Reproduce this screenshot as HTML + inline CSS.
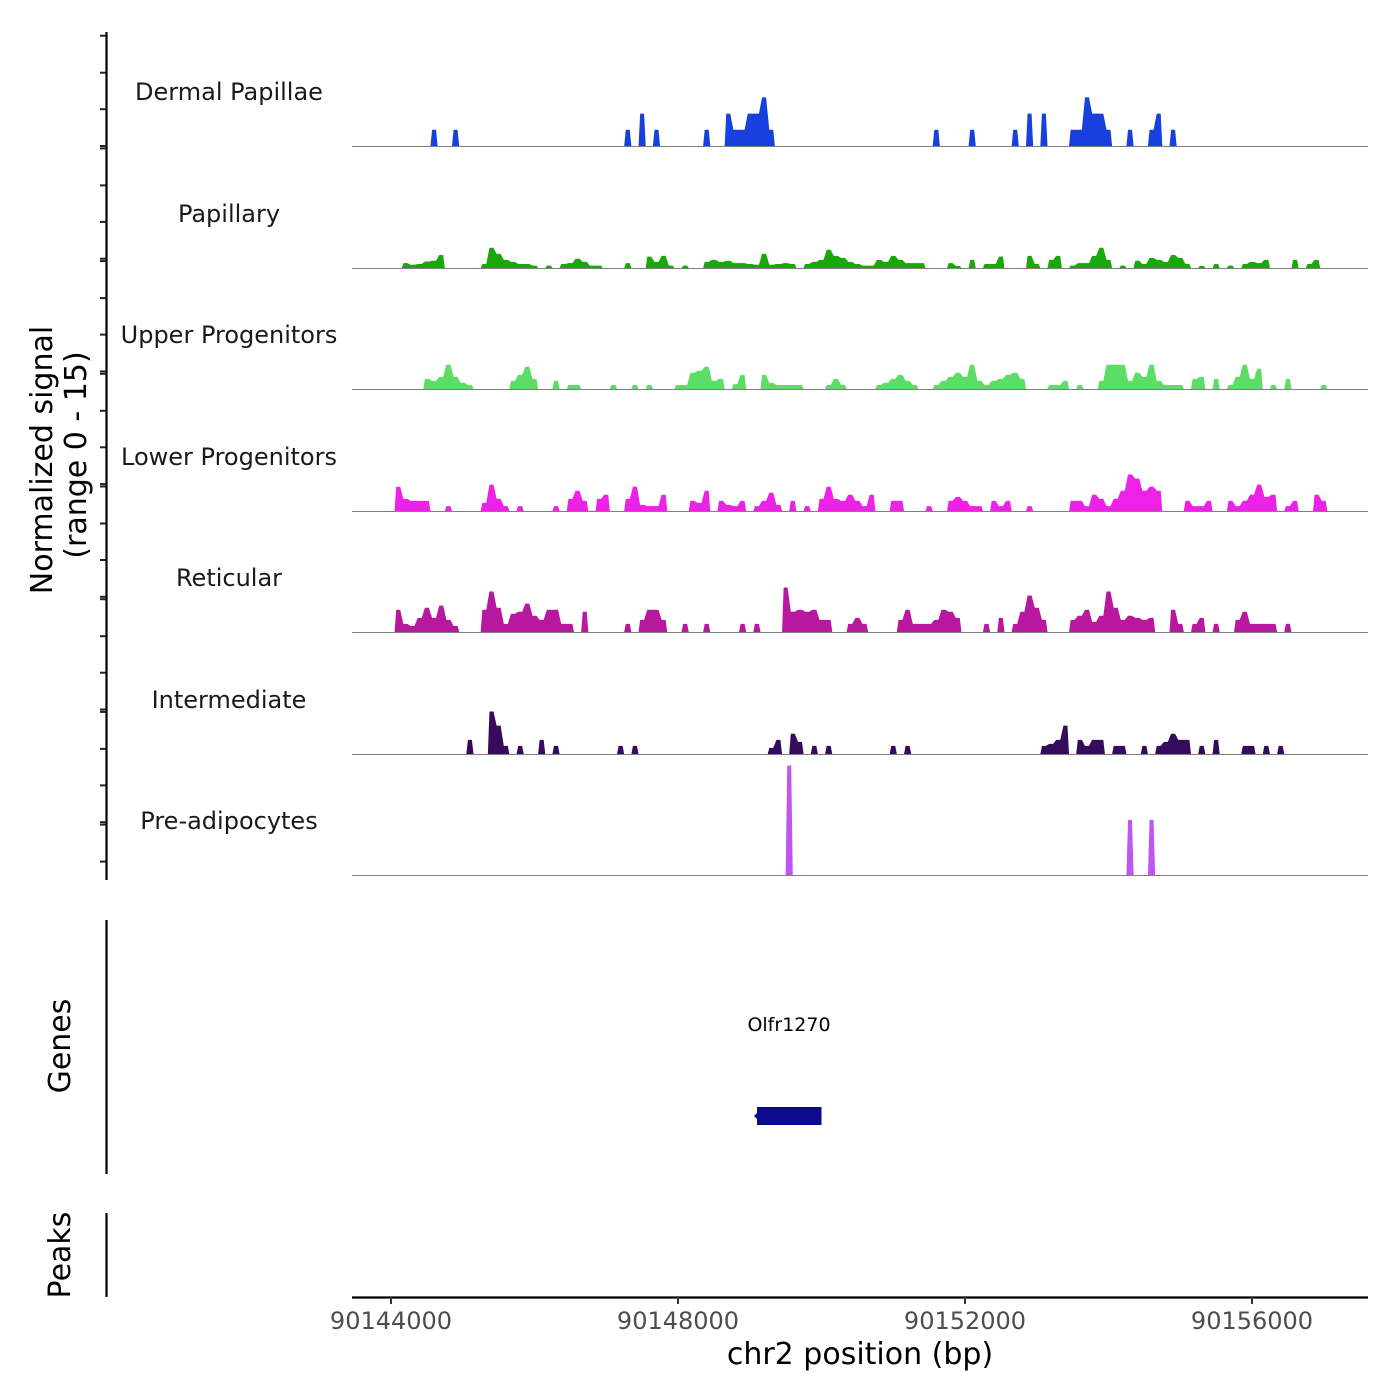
<!DOCTYPE html>
<html><head><meta charset="utf-8"><style>
html,body{margin:0;padding:0;background:#fff;}
svg{display:block;font-family:"DejaVu Sans","Liberation Sans",sans-serif;}
</style></head><body>
<svg id="chart" width="1400" height="1400" viewBox="0 0 1400 1400">
<g id="tracks"></g>
<g id="axes"></g>
</svg>
<script>
const trackNames = ["Dermal Papillae","Papillary","Upper Progenitors","Lower Progenitors","Reticular","Intermediate","Pre-adipocytes"];
const trackColors = ["#1740dd","#19a80a","#5cdd66","#ee22e6","#b8189e","#360b5c","#c056f2"];
const xTicks = [90144000, 90148000, 90152000, 90156000];
const binSize = 100;
const dermal = [[90144550,2],[90144850,2],[90147250,2],[90147450,4],[90147650,2],[90148350,2],[90148650,4],[90148750,2],[90148850,2],[90148950,4],[90149050,4],[90149150,6],[90149250,2],[90151550,2],[90152050,2],[90152650,2],[90152850,4],[90153050,4],[90153450,2],[90153550,2],[90153650,6],[90153750,4],[90153850,4],[90153950,2],[90154250,2],[90154550,2],[90154650,4],[90154850,2]];
const papillary = [[90144150,0.6],[90144250,0.4],[90144350,0.5],[90144450,0.8],[90144550,0.9],[90144650,1.6],[90145250,0.5],[90145350,2.5],[90145450,1.75],[90145550,1],[90145650,0.75],[90145750,0.5],[90145850,0.5],[90145950,0.3],[90146150,0.3],[90146350,0.5],[90146450,0.6],[90146550,1.15],[90146650,0.75],[90146750,0.3],[90146850,0.3],[90147250,0.6],[90147550,1.4],[90147650,0.75],[90147750,1.5],[90147850,0.3],[90148050,0.3],[90148350,0.75],[90148450,1],[90148550,0.75],[90148650,0.9],[90148750,0.6],[90148850,0.6],[90148950,0.5],[90149050,0.4],[90149150,1.75],[90149250,0.4],[90149350,0.5],[90149450,0.6],[90149550,0.5],[90149750,0.5],[90149850,0.75],[90149950,1],[90150050,2.25],[90150150,1.5],[90150250,1.25],[90150350,0.75],[90150450,0.5],[90150550,0.3],[90150650,0.3],[90150750,1],[90150850,0.75],[90150950,1.5],[90151050,1],[90151150,0.6],[90151250,0.6],[90151350,0.6],[90151750,0.6],[90151850,0.25],[90152050,1],[90152250,0.5],[90152350,0.5],[90152450,1.4],[90152850,1.5],[90152950,0.5],[90153150,1],[90153250,1.5],[90153450,0.3],[90153550,0.6],[90153650,0.6],[90153750,1.5],[90153850,2.5],[90153950,1],[90154150,0.3],[90154350,0.9],[90154450,0.5],[90154550,1.25],[90154650,1],[90154750,0.75],[90154850,1.6],[90154950,1.25],[90155050,0.5],[90155250,0.25],[90155450,0.5],[90155650,0.3],[90155850,0.5],[90155950,0.75],[90156050,0.6],[90156150,1],[90156550,1],[90156750,0.5],[90156850,1]];
const upper = [[90144450,1.25],[90144550,1],[90144650,1.5],[90144750,3],[90144850,1.5],[90144950,0.75],[90145050,0.5],[90145650,1],[90145750,1.75],[90145850,2.75],[90145950,1.25],[90146250,1],[90146450,0.5],[90146550,0.5],[90147050,0.5],[90147350,0.5],[90147550,0.5],[90147950,0.5],[90148050,0.5],[90148150,2],[90148250,2.25],[90148350,2.75],[90148450,1],[90148550,1.25],[90148750,0.6],[90148850,1.75],[90149150,1.75],[90149250,0.75],[90149350,0.5],[90149450,0.5],[90149550,0.5],[90149650,0.5],[90150050,0.5],[90150150,1.25],[90150250,0.5],[90150750,0.5],[90150850,0.75],[90150950,1.25],[90151050,1.75],[90151150,1],[90151250,0.5],[90151550,0.5],[90151650,1],[90151750,1.5],[90151850,2],[90151950,1.5],[90152050,3],[90152150,1],[90152250,0.5],[90152350,1],[90152450,1.25],[90152550,1.75],[90152650,2],[90152750,1.25],[90153150,0.5],[90153250,0.5],[90153350,1],[90153550,0.5],[90153850,1],[90153950,3],[90154050,3],[90154150,3],[90154250,1],[90154350,2],[90154450,1.5],[90154550,3],[90154650,1],[90154750,0.5],[90154850,0.5],[90154950,0.5],[90155150,1.25],[90155250,1.5],[90155450,1.25],[90155650,0.5],[90155750,1.5],[90155850,3],[90155950,1.25],[90156050,2.5],[90156250,0.5],[90156450,1.25],[90156950,0.5]];
const lower = [[90144050,3],[90144150,1.5],[90144250,1.25],[90144350,1.25],[90144450,1.25],[90144750,0.6],[90145250,1],[90145350,3.25],[90145450,1.5],[90145550,0.6],[90145750,0.6],[90146250,0.6],[90146450,1.5],[90146550,2.5],[90146650,1.25],[90146850,1.5],[90146950,2],[90147250,1.5],[90147350,3],[90147450,0.75],[90147550,0.6],[90147650,0.6],[90147750,2],[90148150,1.25],[90148250,1],[90148350,2.5],[90148550,1.25],[90148650,0.75],[90148750,0.6],[90148850,1.25],[90149050,0.6],[90149150,1.25],[90149250,2.25],[90149350,0.75],[90149550,1.25],[90149750,0.6],[90149950,1.5],[90150050,3],[90150150,1.5],[90150250,1.25],[90150350,2],[90150450,1.25],[90150550,0.6],[90150650,2],[90150950,1.25],[90151050,1.25],[90151450,0.6],[90151750,1.25],[90151850,1.75],[90151950,1.25],[90152050,0.6],[90152150,0.6],[90152350,1.25],[90152450,0.6],[90152550,1.25],[90152850,0.6],[90153450,1.25],[90153550,1.25],[90153650,0.6],[90153750,2],[90153850,1.5],[90153950,0.6],[90154050,1.5],[90154150,2.5],[90154250,4.5],[90154350,4],[90154450,2.5],[90154550,3],[90154650,2.5],[90155050,1.25],[90155150,0.6],[90155250,0.6],[90155350,1.25],[90155650,1.25],[90155750,0.6],[90155850,1.25],[90155950,2],[90156050,3.25],[90156150,1.75],[90156250,2],[90156450,0.6],[90156550,1.25],[90156850,2],[90156950,1.25]];
const reticular = [[90144050,2.75],[90144150,1],[90144250,0.75],[90144350,1.75],[90144450,3],[90144550,1.75],[90144650,3.25],[90144750,1.5],[90144850,0.75],[90145250,2.75],[90145350,5],[90145450,3],[90145550,1],[90145650,2.25],[90145750,2.5],[90145850,3.5],[90145950,2],[90146050,1.5],[90146150,2.75],[90146250,2.75],[90146350,1],[90146450,1],[90146650,2.5],[90147250,1],[90147450,1.5],[90147550,2.75],[90147650,2.75],[90147750,1.5],[90148050,1],[90148350,1],[90148850,1],[90149050,1],[90149450,5.5],[90149550,2.5],[90149650,2.75],[90149750,2.5],[90149850,2.75],[90149950,1.5],[90150050,1.5],[90150350,1],[90150450,1.75],[90150550,1],[90151050,1.5],[90151150,2.75],[90151250,1],[90151350,1],[90151450,1],[90151550,1.5],[90151650,2.75],[90151750,2.5],[90151850,1.75],[90152250,1],[90152450,1.75],[90152650,1],[90152750,2.5],[90152850,4.5],[90152950,3],[90153050,1.5],[90153450,1.5],[90153550,2],[90153650,2.75],[90153750,1.25],[90153850,2],[90153950,5],[90154050,3],[90154150,1.5],[90154250,2],[90154350,1.75],[90154450,1.5],[90154550,1.75],[90154850,2.75],[90154950,1],[90155150,1],[90155250,1.75],[90155450,1],[90155750,1.5],[90155850,2.5],[90155950,1],[90156050,1],[90156150,1],[90156250,1],[90156450,1]];
const intermediate = [[90145050,1.75],[90145350,5.25],[90145450,3.5],[90145550,1],[90145750,1],[90146050,1.75],[90146250,1],[90147150,1],[90147350,1],[90149250,0.75],[90149350,1.75],[90149550,2.5],[90149650,1.5],[90149850,1],[90150050,1],[90150950,1],[90151150,1],[90153050,1],[90153150,1.25],[90153250,1.75],[90153350,3.5],[90153550,1.75],[90153650,1],[90153750,1.75],[90153850,1.75],[90154050,1],[90154150,1],[90154450,1],[90154650,1],[90154750,1.5],[90154850,2.5],[90154950,1.75],[90155050,1.75],[90155250,1],[90155450,1.75],[90155850,1],[90155950,1],[90156150,1],[90156350,1]];
const preadipocytes = [[90149500,13.5],[90154250,6.8],[90154550,6.8]];
const trackData = [dermal, papillary, upper, lower, reticular, intermediate, preadipocytes];

const NS = "http://www.w3.org/2000/svg";
const plotX0 = 352, plotX1 = 1368;
const baselines = [146, 268, 389, 511, 632, 754, 875];
const pxPerUnit = 8.1;
function xScale(bp){ return 391 + (bp - 90144000) * (287 / 4000); }
function yScale(k, v){ return baselines[k] - v * pxPerUnit; }
function mk(tag, attrs, parent){ const e = document.createElementNS(NS, tag); for (const a in attrs) e.setAttribute(a, attrs[a]); parent.appendChild(e); return e; }

const tg = document.getElementById('tracks');
trackData.forEach((data, k) => {
  const sorted = data.slice().sort((a,b)=>a[0]-b[0]);
  let d = "";
  let prevEnd = null;
  sorted.forEach(([bp, v]) => {
    const x0 = xScale(bp), x1 = xScale(bp + binSize);
    const y = yScale(k, v);
    if (prevEnd === null || Math.abs(prevEnd - bp) > 1) {
      if (prevEnd !== null) d += `L${xScale(prevEnd).toFixed(2)},${baselines[k]} `;
      d += `M${x0.toFixed(2)},${baselines[k]} `;
    }
    d += `L${(x0+1.6).toFixed(2)},${y.toFixed(2)} L${(x1-1.6).toFixed(2)},${y.toFixed(2)} `;
    prevEnd = bp + binSize;
  });
  if (prevEnd !== null) d += `L${xScale(prevEnd).toFixed(2)},${baselines[k]} Z`;
  const p = mk('path', {d: d, fill: trackColors[k], stroke: 'none'}, tg);
  
  
  const bl = mk('line', {x1: plotX0, x2: plotX1, y1: baselines[k] + 0.5, y2: baselines[k] + 0.5, stroke: '#7f7f7f', 'stroke-width': 1}, tg);
  
  
  const lb = mk('text', {x: 229, y: baselines[k] - 46, 'text-anchor': 'middle', 'font-size': 24, fill: '#1a1a1a'}, tg);
  lb.textContent = trackNames[k];
  
  
});

const ag = document.getElementById('axes');
const ya = mk('line', {x1: 106.5, x2: 106.5, y1: 32, y2: 880, stroke: '#000', 'stroke-width': 2.2}, ag);


for (let g = 0; g < 8; g++) {
  const base = 35.7 + 112.7 * g;
  [0, 37, 73.5, 110.3].forEach(o => {
    const yy = base + o;
    if (yy > 879) return;
    const t = mk('line', {x1: 100, x2: 106, y1: yy, y2: yy, stroke: '#222', 'stroke-width': 2}, ag);
    
    
  });
}
const ga = mk('line', {x1: 106.5, x2: 106.5, y1: 920, y2: 1174, stroke: '#000', 'stroke-width': 2.2}, ag);


const pa = mk('line', {x1: 106.5, x2: 106.5, y1: 1213, y2: 1297, stroke: '#000', 'stroke-width': 2.2}, ag);


const xa = mk('line', {x1: plotX0, x2: plotX1, y1: 1297.5, y2: 1297.5, stroke: '#000', 'stroke-width': 2.2}, ag);


xTicks.forEach(v => {
  const x = xScale(v);
  const t = mk('line', {x1: x, x2: x, y1: 1297, y2: 1304, stroke: '#333', 'stroke-width': 2}, ag);
  
  
  const l = mk('text', {x: x, y: 1329, 'text-anchor': 'middle', 'font-size': 24, fill: '#4d4d4d'}, ag);
  l.textContent = v;
  
  
});
</script>
<svg style="position:absolute;left:0;top:0" width="1400" height="1400">
<text x="860" y="1364" text-anchor="middle" font-size="30" fill="#000">chr2 position (bp)</text>
<text transform="translate(52,460) rotate(-90)" text-anchor="middle" font-size="30" fill="#000">Normalized signal</text>
<text transform="translate(86,455) rotate(-90)" text-anchor="middle" font-size="30" fill="#000">(range 0 - 15)</text>
<text transform="translate(70,1046) rotate(-90)" text-anchor="middle" font-size="30" fill="#000">Genes</text>
<text transform="translate(70,1255) rotate(-90)" text-anchor="middle" font-size="30" fill="#000">Peaks</text>
<text x="789" y="1031" text-anchor="middle" font-size="19" fill="#000">Olfr1270</text>
<rect x="757" y="1107" width="64.5" height="18" fill="#0b0b8c"/>
<path d="M757,1113 L754,1116 L757,1119 Z" fill="#0b0b8c"/>
</svg>
</body></html>
